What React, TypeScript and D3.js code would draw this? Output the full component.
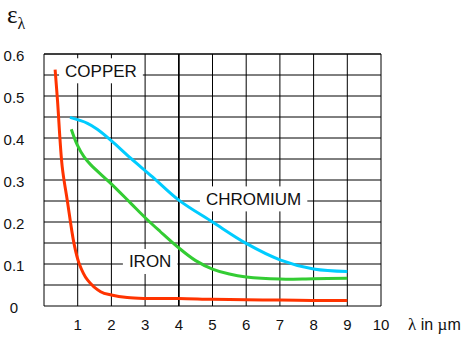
import { useEffect, useRef } from "react";
import * as d3 from "d3";

// wavelength (um) vs emissivity
const copper: [ number, number ][] = [
    [ 0.33, 0.563 ], [ 0.4, 0.49 ], [ 0.54, 0.332 ], [ 0.69, 0.252 ], [ 0.89, 0.149 ],
    [ 1.04, 0.102 ], [ 1.29, 0.062 ], [ 1.68, 0.034 ], [ 2.0, 0.026 ], [ 2.47, 0.02 ],
    [ 3, 0.018 ], [ 4, 0.018 ], [ 5, 0.016 ], [ 6, 0.015 ], [ 7, 0.014 ], [ 8, 0.013 ], [ 9, 0.013 ],
];
const iron: [ number, number ][] = [
    [ 0.81, 0.421 ], [ 0.99, 0.383 ], [ 1.19, 0.355 ], [ 1.39, 0.336 ], [ 1.98, 0.292 ],
    [ 2.57, 0.245 ], [ 3.02, 0.209 ], [ 3.44, 0.178 ], [ 3.96, 0.141 ], [ 4.5, 0.108 ],
    [ 5, 0.088 ], [ 5.5, 0.076 ], [ 6, 0.069 ], [ 7, 0.064 ], [ 8, 0.065 ], [ 9, 0.066 ],
];
const chromium: [ number, number ][] = [
    [ 0.77, 0.449 ], [ 1.29, 0.435 ], [ 1.58, 0.421 ], [ 1.98, 0.395 ], [ 2.57, 0.352 ],
    [ 3.21, 0.308 ], [ 4, 0.252 ], [ 5, 0.2 ], [ 6, 0.149 ], [ 7, 0.11 ], [ 8, 0.088 ], [ 9, 0.082 ],
];
const xTicks = [ 1, 2, 3, 4, 5, 6, 7, 8, 9, 10 ];
const yTicks = [ 0, 0.1, 0.2, 0.3, 0.4, 0.5, 0.6 ];
const labels = [
    { name: "COPPER", x: 1.69, y: 0.56 },
    { name: "IRON", x: 3.15, y: 0.106 },
    { name: "CHROMIUM", x: 6.22, y: 0.255 },
];
const series = [
    { data: copper, color: "#ff3300" },
    { data: iron, color: "#33cc33" },
    { data: chromium, color: "#00ccff" },
];

const SANS = "'Liberation Sans', Arial, sans-serif";
const SERIF = "'Liberation Serif', 'Times New Roman', serif";

export default function App ()
{
    const svgRef = useRef<SVGSVGElement>( null );

    useEffect( () =>
    {
        document.body.style.margin = "0";
        if ( !svgRef.current ) return;
        const svg = d3.select( svgRef.current );
        svg.selectAll( "*" ).remove();

        const x = d3.scaleLinear().domain( [ 0, 10 ] ).range( [ 44, 381 ] );
        const y = d3.scaleLinear().domain( [ 0, 0.6 ] ).range( [ 306, 54 ] );

        // grid
        const grid = svg.append( "g" ).attr( "stroke", "#000" ).attr( "stroke-width", 1 );
        grid.selectAll( "line.v" ).data( d3.range( 0, 11 ) ).join( "line" ).attr( "class", "v" )
            .attr( "x1", d => x( d ) ).attr( "x2", d => x( d ) )
            .attr( "y1", y( 0 ) ).attr( "y2", y( 0.6 ) );
        grid.selectAll( "line.h" ).data( d3.range( 0, 13 ).map( i => i * 0.05 ) ).join( "line" ).attr( "class", "h" )
            .attr( "y1", d => y( d ) ).attr( "y2", d => y( d ) )
            .attr( "x1", x( 0 ) ).attr( "x2", x( 10 ) );
        // the 4 um line is heavier
        grid.append( "line" ).attr( "x1", x( 4 ) ).attr( "x2", x( 4 ) ).attr( "y1", y( 0 ) ).attr( "y2", y( 0.6 ) )
            .attr( "stroke-width", 1.6 );

        // curves
        const line = d3.line<[ number, number ]>()
            .x( d => x( d[ 0 ] ) ).y( d => y( d[ 1 ] ) )
            .curve( d3.curveCatmullRom.alpha( 0.5 ) );
        series.forEach( s =>
        {
            svg.append( "path" ).attr( "d", line( s.data ) as string )
                .attr( "fill", "none" ).attr( "stroke", s.color ).attr( "stroke-width", 3 );
        } );

        // curve labels on white boxes
        labels.forEach( l =>
        {
            const g = svg.append( "g" );
            const rect = g.append( "rect" ).attr( "fill", "#fff" );
            const t = g.append( "text" ).attr( "x", x( l.x ) ).attr( "y", y( l.y ) + 6 )
                .attr( "text-anchor", "middle" ).style( "font-family", SANS ).style( "font-size", "17px" )
                .attr( "fill", "#111" ).text( l.name );
            const bb = ( t.node() as SVGTextElement ).getBBox();
            rect.attr( "x", bb.x - 6 ).attr( "width", bb.width + 12 )
                .attr( "y", y( l.y ) - 12.5 ).attr( "height", 25 );
        } );
        // keep the frame line above the COPPER box
        svg.append( "line" ).attr( "x1", x( 0 ) ).attr( "x2", x( 10 ) ).attr( "y1", y( 0.6 ) ).attr( "y2", y( 0.6 ) )
            .attr( "stroke", "#000" );

        // tick labels
        svg.append( "g" ).selectAll( "text" ).data( xTicks ).join( "text" )
            .attr( "x", d => x( d ) ).attr( "y", 330 ).attr( "text-anchor", "middle" )
            .style( "font-family", SANS ).style( "font-size", "15px" ).attr( "fill", "#111" )
            .text( d => String( d ) );
        svg.append( "g" ).selectAll( "text" ).data( yTicks ).join( "text" )
            .attr( "x", 14 ).attr( "y", d => y( d ) + 6.5 ).attr( "text-anchor", "middle" )
            .style( "font-family", SANS ).style( "font-size", "15px" ).attr( "fill", "#111" )
            .text( d => d === 0 ? "0" : d.toFixed( 1 ) );

        // axis titles
        const xt = svg.append( "text" ).attr( "x", 408 ).attr( "y", 330 )
            .style( "font-size", "16px" ).attr( "fill", "#111" );
        xt.append( "tspan" ).style( "font-family", SERIF ).style( "font-size", "17px" ).text( "λ" );
        xt.append( "tspan" ).style( "font-family", SANS ).text( " in " );
        xt.append( "tspan" ).style( "font-family", SERIF ).style( "font-size", "17px" ).text( "µ" );
        xt.append( "tspan" ).style( "font-family", SANS ).text( "m" );

        const yt = svg.append( "text" ).attr( "x", 7 ).attr( "y", 23 ).attr( "fill", "#111" )
            .style( "font-family", SERIF );
        yt.append( "tspan" ).style( "font-size", "25px" ).text( "ε" );
        yt.append( "tspan" ).attr( "dy", 6 ).style( "font-size", "16px" ).text( "λ" );
    }, [] );

    return <svg ref={ svgRef } width={ 466 } height={ 338 } style={ { display: "block", background: "#fff" } } />;
}
